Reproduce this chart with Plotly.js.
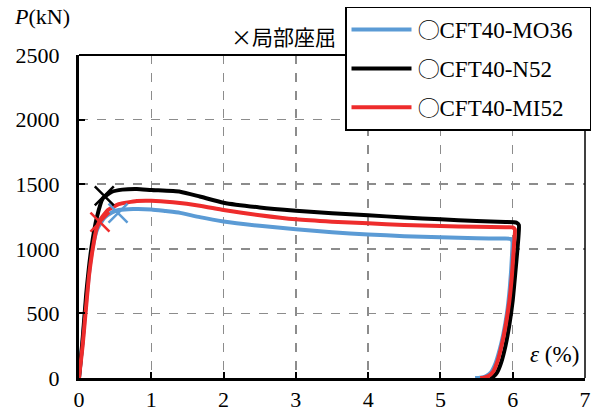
<!DOCTYPE html>
<html>
<head>
<meta charset="utf-8">
<script src="https://cdn.plot.ly/plotly-3.0.1.min.js"></script>
<style>html,body{margin:0;padding:0;background:#fff;}#chart{width:600px;height:419px;}</style>
</head>
<body>
<div id="chart"></div>
<script>
// Series names
const seriesNames = ["〇CFT40-MO36", "〇CFT40-N52", "〇CFT40-MI52"];
const seriesColors = ["#5B9BD5", "#000000", "#EE2C2C"];

// MO36 (blue): strain (%) and load (kN)
const mo36Strain = [0, 0.05, 0.1, 0.17, 0.25, 0.35, 0.45, 0.55, 0.75, 1.0, 1.2, 1.4, 1.67, 2.0, 2.5, 3.0, 3.5, 4.0, 4.5, 5.0, 5.5, 5.85, 5.97, 5.995, 5.99, 5.96, 5.92, 5.87, 5.82, 5.76, 5.7, 5.62, 5.55, 5.48];
const mo36Load   = [0, 280, 600, 950, 1150, 1240, 1280, 1300, 1308, 1305, 1292, 1278, 1245, 1212, 1178, 1151, 1128, 1111, 1098, 1089, 1082, 1079, 1077, 1060, 950, 700, 500, 340, 220, 110, 45, 12, 3, 0];

// N52 (black)
const n52Strain = [0, 0.05, 0.1, 0.17, 0.25, 0.33, 0.45, 0.6, 0.8, 1.0, 1.4, 1.67, 2.0, 2.5, 3.0, 3.5, 4.0, 4.5, 5.0, 5.5, 5.9, 6.05, 6.085, 6.08, 6.05, 6.0, 5.95, 5.9, 5.84, 5.78, 5.73, 5.68];
const n52Load   = [0, 300, 650, 1000, 1250, 1390, 1440, 1458, 1463, 1455, 1442, 1405, 1357, 1320, 1295, 1275, 1259, 1243, 1228, 1215, 1207, 1203, 1185, 1100, 900, 600, 400, 250, 120, 40, 10, 0];

// MI52 (red)
const mi52Strain = [0, 0.05, 0.09, 0.14, 0.19, 0.24, 0.3, 0.4, 0.55, 0.8, 1.0, 1.3, 1.67, 2.0, 2.5, 3.0, 3.5, 4.0, 4.5, 5.0, 5.5, 5.9, 6.0, 6.03, 6.02, 5.99, 5.95, 5.9, 5.85, 5.79, 5.73, 5.66, 5.6, 5.55];
const mi52Load   = [0, 250, 500, 800, 1000, 1150, 1230, 1300, 1345, 1370, 1372, 1360, 1334, 1300, 1260, 1228, 1210, 1197, 1185, 1176, 1170, 1167, 1166, 1150, 1050, 800, 580, 400, 260, 130, 50, 14, 3, 0];

// Local buckling points (× markers)
const bucklingStrain = [0.54, 0.35, 0.29];
const bucklingLoad   = [1277, 1409, 1207];

const xTicks = [0, 1, 2, 3, 4, 5, 6, 7];
const yTicks = [0, 500, 1000, 1500, 2000, 2500];

const serif = "Liberation Serif";
const strains = [mo36Strain, n52Strain, mi52Strain];
const loads = [mo36Load, n52Load, mi52Load];
const pad = "\u00a0\u00a0";

const traces = [];
for (let i = 0; i < 3; i++) {
  traces.push({
    x: strains[i], y: loads[i], type: "scatter", mode: "lines",
    name: seriesNames[i] + pad, legendgroup: "g" + i,
    line: {color: seriesColors[i], width: 4, shape: "spline", smoothing: 0.5},
    hoverinfo: "skip"
  });
}
for (let i = 0; i < 3; i++) {
  traces.push({
    x: [bucklingStrain[i]], y: [bucklingLoad[i]], type: "scatter", mode: "markers",
    showlegend: false,
    marker: {symbol: "x-thin", size: 19, line: {color: seriesColors[i], width: 2.5}, color: seriesColors[i]},
    hoverinfo: "skip"
  });
}

const layout = {
  width: 600, height: 419,
  margin: {l: 79, r: 15, t: 55, b: 41, autoexpand: false},
  paper_bgcolor: "#fff", plot_bgcolor: "#fff",
  font: {family: serif, color: "#000"},
  showlegend: true,
  legend: {
    x: 0.5257, y: 1.15, xanchor: "left", yanchor: "top",
    bgcolor: "#fff", bordercolor: "#000", borderwidth: 1.5,
    font: {family: serif, size: 23, color: "#000"},
    tracegroupgap: 6, traceorder: "grouped",
    itemwidth: 60
  },
  xaxis: {
    range: [0, 7], tickvals: xTicks, ticktext: xTicks.map(String),
    showline: true, linecolor: "#000", linewidth: 3,
    ticks: "inside", ticklen: 6, tickwidth: 2, tickcolor: "#000",
    showgrid: true, gridcolor: "#8c8c8c", gridwidth: 1.5, griddash: "dash",
    zeroline: false, fixedrange: true,
    tickfont: {family: serif, size: 22, color: "#000"}
  },
  yaxis: {
    range: [0, 2500], tickvals: yTicks, ticktext: yTicks.map(String),
    showline: true, linecolor: "#000", linewidth: 3,
    ticks: "inside", ticklen: 6, tickwidth: 2, tickcolor: "#000",
    showgrid: true, gridcolor: "#8c8c8c", gridwidth: 1.5, griddash: "dash",
    zeroline: false, fixedrange: true,
    ticklabelstandoff: 12,
    tickfont: {family: serif, size: 22, color: "#000"}
  },
  shapes: [
    {type: "line", xref: "paper", yref: "paper", x0: 0, x1: 1, y0: 1, y1: 1, line: {color: "#000", width: 1.8}},
    {type: "line", xref: "paper", yref: "paper", x0: 1, x1: 1, y0: 0, y1: 1, line: {color: "#000", width: 1.5}}
  ],
  annotations: [
    {text: "<i>P</i>(kN)", xref: "paper", yref: "paper", x: -0.133, y: 1.12, xanchor: "left", yanchor: "middle",
     showarrow: false, font: {family: serif, size: 22, color: "#000"}},
    {text: "×局部座屈", xref: "paper", yref: "paper", x: 0.296, y: 1.058, xanchor: "left", yanchor: "middle",
     showarrow: false, font: {family: "Noto Sans CJK JP", size: 21, color: "#000"}},
    {text: "<i>ε</i> (%)", xref: "paper", yref: "paper", x: 0.992, y: 0.072, xanchor: "right", yanchor: "middle",
     showarrow: false, font: {family: serif, size: 23, color: "#000"}}
  ]
};

Plotly.newPlot("chart", traces, layout, {displayModeBar: false, staticPlot: true});
</script>
</body>
</html>
